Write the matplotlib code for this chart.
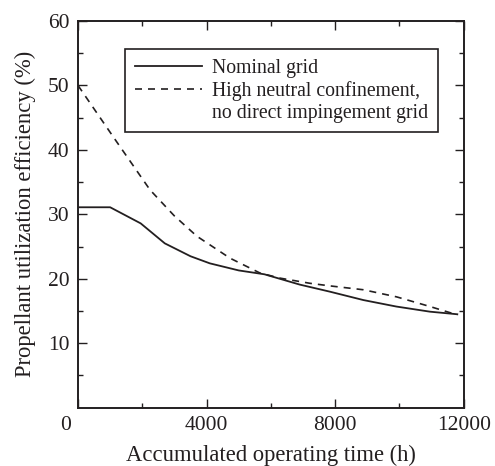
import matplotlib
matplotlib.use("Agg")
import matplotlib.pyplot as plt
from matplotlib.lines import Line2D
from matplotlib.transforms import ScaledTranslation

ARQUIVO = "out.png"
COR = "#231f20"

# Nominal grid (solid)
tempo_nominal = [0, 1000, 1950, 2700, 3500, 4100, 5000, 5800, 6900, 7840, 8880, 9900, 10950, 11800]
eff_nominal = [31.1, 31.1, 28.6, 25.5, 23.5, 22.4, 21.3, 20.7, 19.1, 18.0, 16.7, 15.7, 14.9, 14.5]

# High neutral confinement, no direct impingement grid (dashed)
tempo_alto = [0, 1100, 2240, 2990, 3700, 4730, 5660, 6290, 7220, 7840, 8880, 9910, 10950, 11800]
eff_alto = [50.0, 42.0, 33.8, 29.8, 26.6, 23.2, 20.9, 20.1, 19.3, 18.9, 18.3, 17.2, 15.7, 14.4]

rotulo_nominal = "Nominal grid"
rotulo_alto_1 = "High neutral confinement,"
rotulo_alto_2 = "no direct impingement grid"

x_ticks = [0, 4000, 8000, 12000]
y_ticks = [10, 20, 30, 40, 50, 60]

plt.rcParams["font.family"] = ["Liberation Serif", "DejaVu Serif"]

fig = plt.figure(figsize=(4.95, 4.66), dpi=100)
ax = fig.add_axes([0.1576, 0.1251, 0.7792, 0.8298])

ax.plot(tempo_nominal, eff_nominal, color=COR, lw=1.3, linestyle="-")
ax.plot(tempo_alto, eff_alto, color=COR, lw=1.2, linestyle=(0, (4.2, 3.6)))

ax.set_xlim(0, 12000)
ax.set_ylim(0, 60)
ax.set_xticks(x_ticks)
ax.set_xticks([2000, 6000, 10000], minor=True)
ax.set_yticks(y_ticks)
ax.set_yticks([5, 15, 25, 35, 45, 55], minor=True)

ax.tick_params(which="both", direction="in", top=True, right=True, color=COR, width=1.0,
               labelsize=15.5, labelcolor=COR)
ax.tick_params(which="major", length=6.5, pad=6)
ax.tick_params(which="minor", length=3.3)
for lado in ax.spines.values():
    lado.set_linewidth(1.4)
    lado.set_color(COR)

# o "0" da origem fica um pouco a esquerda do eixo
rotulo_zero = ax.get_xticklabels()[0]
rotulo_zero.set_transform(rotulo_zero.get_transform() + ScaledTranslation(-9 / 72, 0, fig.dpi_scale_trans))

ax.set_xlabel("Accumulated operating time (h)", fontsize=16.3, color=COR, labelpad=7)
ax.set_ylabel("Propellant utilization efficiency (%)", fontsize=16.3, color=COR, labelpad=9)

alcas = [
    Line2D([], [], color=COR, lw=1.3, linestyle="-"),
    Line2D([], [], color=COR, lw=1.2, linestyle=(0, (4.2, 3.6))),
    Line2D([], [], color="none"),
]
leg = ax.legend(alcas, [rotulo_nominal, rotulo_alto_1, rotulo_alto_2],
                loc="upper left", bbox_to_anchor=(0.121, 0.928), borderaxespad=0,
                fontsize=14.2, handlelength=3.4, handletextpad=0.55, labelspacing=0.15,
                frameon=True, fancybox=False, framealpha=1, edgecolor=COR,
                borderpad=0.5)
leg.get_frame().set_linewidth(1.2)
for t in leg.get_texts():
    t.set_color(COR)

fig.savefig(ARQUIVO, dpi=100)
plt.close(fig)
